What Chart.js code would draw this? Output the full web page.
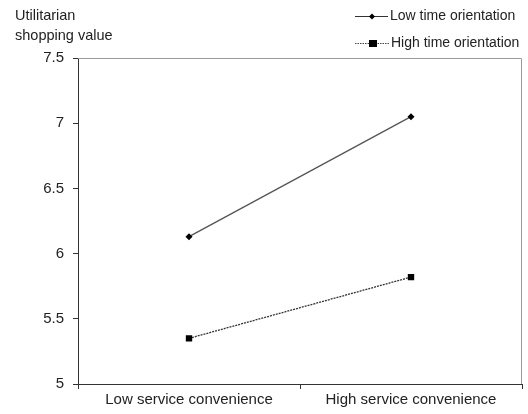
<!DOCTYPE html>
<html><head><meta charset="utf-8">
<script src="https://cdn.jsdelivr.net/npm/chart.js@4/dist/chart.umd.min.js"></script>
<style>html,body{margin:0;padding:0;background:#fff}#w{width:528px;height:414px;position:relative}</style>
</head><body><div id="w"><canvas id="c"></canvas></div>
<script>
const categories = ["Low service convenience", "High service convenience"];
const lowTime = [6.13, 7.05];
const highTime = [5.35, 5.82];
const seriesNames = ["Low time orientation", "High time orientation"];
const yTitle = ["Utilitarian", "shopping value"];
const yMin = 5, yMax = 7.5, yStep = 0.5;

const FONT = "'Liberation Sans', Arial, sans-serif";

const decor = {
  id: 'decor',
  beforeDatasetsDraw(chart) {
    const {ctx, chartArea: a} = chart;
    ctx.save();
    ctx.strokeStyle = '#9a9a9a';
    ctx.lineWidth = 1;
    ctx.beginPath();
    ctx.moveTo(a.left, a.top + 0.5);
    ctx.lineTo(a.right - 0.5, a.top + 0.5);
    ctx.lineTo(a.right - 0.5, a.bottom);
    ctx.stroke();
    ctx.restore();
  },
  afterDraw(chart) {
    const ctx = chart.ctx;
    ctx.save();
    ctx.fillStyle = '#222';
    ctx.font = "14.5px " + FONT;
    ctx.textBaseline = 'middle';
    ctx.textAlign = 'left';
    ctx.fillText(yTitle[0], 15, 16);
    ctx.fillText(yTitle[1], 15, 36);
    // legend
    ctx.font = "14px " + FONT;
    ctx.strokeStyle = '#333'; ctx.lineWidth = 1;
    ctx.setLineDash([]);
    ctx.beginPath(); ctx.moveTo(355, 16.5); ctx.lineTo(388, 16.5); ctx.stroke();
    ctx.fillStyle = '#000';
    ctx.beginPath(); ctx.moveTo(372, 13.5); ctx.lineTo(375, 16.5); ctx.lineTo(372, 19.5); ctx.lineTo(369, 16.5); ctx.closePath(); ctx.fill();
    ctx.fillStyle = '#222';
    ctx.fillText(seriesNames[0], 390, 16);
    ctx.strokeStyle = '#444';
    ctx.setLineDash([1.5, 1]);
    ctx.beginPath(); ctx.moveTo(355, 43.5); ctx.lineTo(389, 43.5); ctx.stroke();
    ctx.setLineDash([]);
    ctx.fillStyle = '#000';
    ctx.fillRect(369, 40, 8, 7);
    ctx.fillStyle = '#222';
    ctx.fillText(seriesNames[1], 391, 43);
    ctx.restore();
  }
};

new Chart(document.getElementById('c'), {
  type: 'line',
  data: {
    labels: categories,
    datasets: [
      { label: seriesNames[0], data: lowTime, borderColor: '#555', borderWidth: 1.3,
        pointStyle: 'rectRot', pointRadius: 3.5, pointBackgroundColor: '#000', pointBorderColor: '#000', pointBorderWidth: 0 },
      { label: seriesNames[1], data: highTime, borderColor: '#333', borderWidth: 1.3, borderDash: [2, 1],
        pointStyle: 'rect', pointRadius: 4.5, pointBackgroundColor: '#000', pointBorderColor: '#000', pointBorderWidth: 0 }
    ]
  },
  options: {
    responsive: true, maintainAspectRatio: false, animation: false,
    layout: { padding: { top: 58, right: 6, left: 0, bottom: 0 } },
    plugins: { legend: { display: false }, tooltip: { enabled: false } },
    scales: {
      x: {
        offset: true,
        grid: { offset: true, drawOnChartArea: false, tickLength: 5, color: '#333' },
        border: { color: '#333', width: 1 },
        ticks: { color: '#222', font: { family: FONT, size: 15 }, padding: 2, maxRotation: 0 },
        afterFit(s) { s.height = 30; }
      },
      y: {
        min: yMin, max: yMax,
        grid: { drawOnChartArea: false, tickLength: 5, color: '#333' },
        border: { color: '#333', width: 1 },
        ticks: { stepSize: yStep, color: '#222', font: { family: FONT, size: 15 }, padding: 9,
          callback: v => String(v) },
        afterFit(s) { s.width = 78; }
      }
    }
  },
  plugins: [decor]
});
</script></body></html>
